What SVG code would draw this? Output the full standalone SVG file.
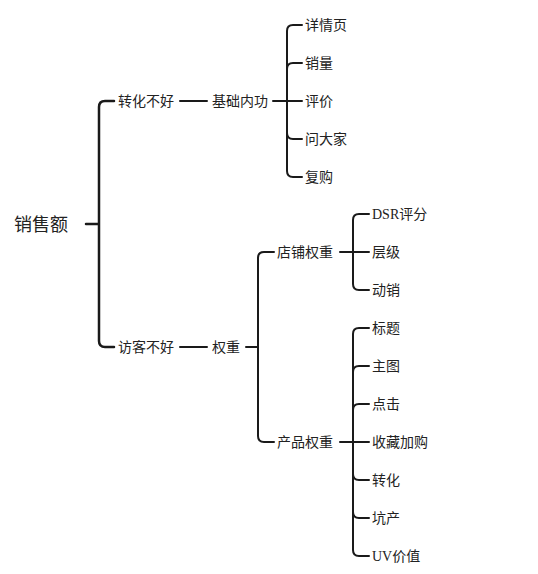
<svg xmlns="http://www.w3.org/2000/svg" width="538" height="574" viewBox="0 0 538 574">
<style>
text{font-family:"Noto Sans CJK SC","Liberation Sans",sans-serif;font-size:14px;fill:#222}
.root{font-size:18px}
.lat{font-family:"Liberation Serif","Noto Sans CJK SC",serif}
.c{fill:none;stroke:#1a1a1a;stroke-width:2;stroke-linecap:round}
.c2{fill:none;stroke:#1a1a1a;stroke-width:2.5;stroke-linecap:round}
</style>
<rect width="538" height="574" fill="#fff"/>
<g id="connectors">
<path class="c2" d="M86 224H99M99 224V107Q99 101 105 101H114M99 224V341Q99 347 105 347H114"/>
<path class="c" d="M180 101H207M180 347H207"/>
<path class="c" d="M273 101H302M287 101V31Q287 25 293 25H302M287 101V69Q287 63 293 63H302M287 101V133Q287 139 293 139H302M287 101V171Q287 177 293 177H302"/>
<path class="c" d="M246 347H258M258 347V258Q258 252 264 252H274M258 347V436Q258 442 264 442H274"/>
<path class="c" d="M340 252H369M353 252V220Q353 214 359 214H369M353 252V284Q353 290 359 290H369"/>
<path class="c" d="M340 442H369M353 442V334Q353 328 359 328H369M353 442V372Q353 366 359 366H369M353 442V410Q353 404 359 404H369M353 442V474Q353 480 359 480H369M353 442V512Q353 518 359 518H369M353 442V550Q353 556 359 556H369"/>
</g>
<g id="n-root"><text class="root" x="14" y="231">销售额</text></g>
<g id="n-zh"><text x="118" y="106">转化不好</text></g>
<g id="n-jc"><text x="212" y="106">基础内功</text></g>
<g id="n-xq"><text x="305" y="30">详情页</text></g>
<g id="n-xl"><text x="305" y="68">销量</text></g>
<g id="n-pj"><text x="305" y="106">评价</text></g>
<g id="n-wdj"><text x="305" y="144">问大家</text></g>
<g id="n-fg"><text x="305" y="182">复购</text></g>
<g id="n-fk"><text x="118" y="352">访客不好</text></g>
<g id="n-qz"><text x="212" y="352">权重</text></g>
<g id="n-dp"><text x="277" y="257">店铺权重</text></g>
<g id="n-dsr"><text class="lat" x="372" y="219">DSR评分</text></g>
<g id="n-cj"><text x="372" y="257">层级</text></g>
<g id="n-dx"><text x="372" y="295">动销</text></g>
<g id="n-cp"><text x="277" y="447">产品权重</text></g>
<g id="n-bt"><text x="372" y="333">标题</text></g>
<g id="n-zt"><text x="372" y="371">主图</text></g>
<g id="n-dj"><text x="372" y="409">点击</text></g>
<g id="n-sc"><text x="372" y="447">收藏加购</text></g>
<g id="n-zh2"><text x="372" y="485">转化</text></g>
<g id="n-kc"><text x="372" y="523">坑产</text></g>
<g id="n-uv"><text class="lat" x="372" y="561">UV价值</text></g>
</svg>
